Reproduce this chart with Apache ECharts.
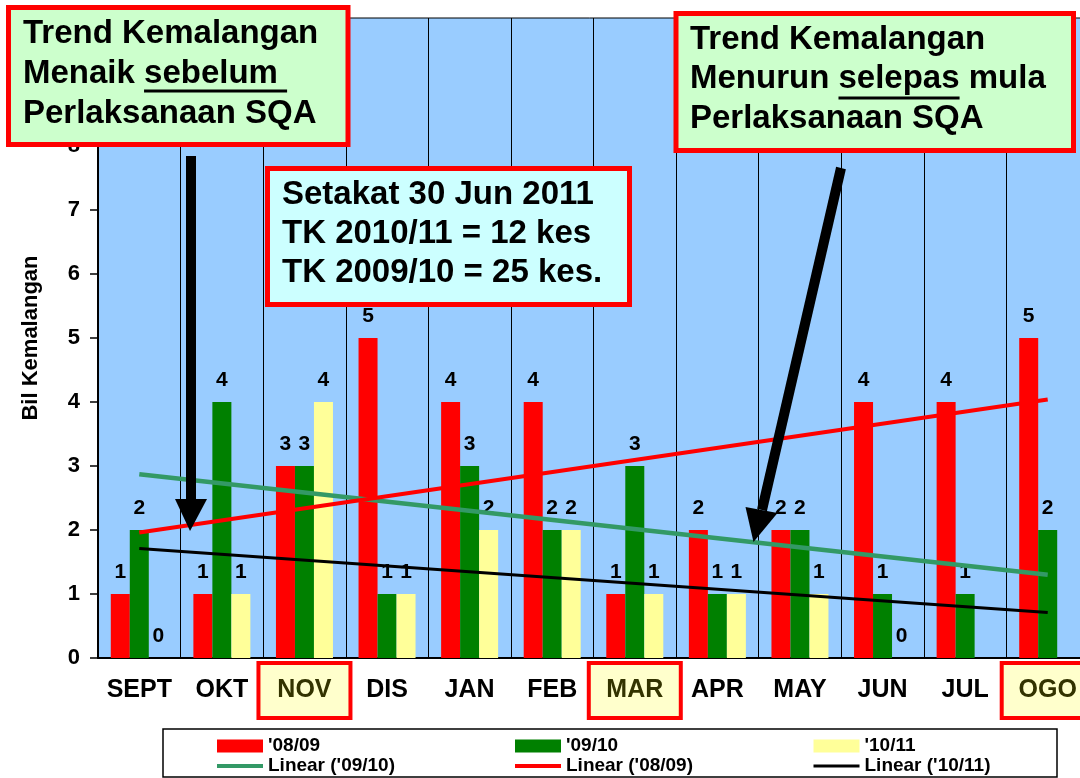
<!DOCTYPE html>
<html>
<head>
<meta charset="utf-8">
<script src="https://cdn.jsdelivr.net/npm/echarts@6/dist/echarts.min.js"></script>
<style>
html, body { margin: 0; padding: 0; background: #fff; }
#chart { width: 1080px; height: 778px; }
</style>
</head>
<body>
<div id="chart"></div>
<script>
// data
var months = ['SEPT', 'OKT', 'NOV', 'DIS', 'JAN', 'FEB', 'MAR', 'APR', 'MAY', 'JUN', 'JUL', 'OGO'];
var highlighted = ['NOV', 'MAR', 'OGO'];
var cases0809 = [1, 1, 3, 5, 4, 4, 1, 2, 2, 4, 4, 5];
var cases0910 = [2, 4, 3, 1, 3, 2, 3, 1, 2, 1, 1, 2];
var cases1011 = [0, 1, 4, 1, 2, 2, 1, 1, 1, 0, null, null];
// trend lines: value at SEPT and at OGO, as drawn
var trend0809 = [1.96, 4.04];
var trend0910 = [2.87, 1.30];
var trend1011 = [1.71, 0.71];
var yTicks = [0, 10, 1]; // min, max, step

var FONT = '"Liberation Sans", Arial, sans-serif';
var red = '#ff0000', green = '#008000', yellow = '#ffff99', trendGreen = '#339966';

var ctx = document.createElement('canvas').getContext('2d');
function textWidth(s, size) {
    ctx.font = 'bold ' + size + 'px ' + FONT;
    return ctx.measureText(s).width;
}

var chart = echarts.init(document.getElementById('chart'), null, { renderer: 'canvas' });

function barSeries(name, data, color) {
    return {
        name: name,
        type: 'bar',
        data: data,
        barWidth: 19,
        barGap: '0%',
        itemStyle: { color: color },
        label: {
            show: true,
            position: 'top',
            distance: 11,
            color: '#000',
            fontSize: 21,
            fontWeight: 'bold'
        },
        z: 2
    };
}

function trendSeries(name, ends, color, width) {
    return {
        name: name,
        type: 'line',
        data: [[0, ends[0]], [months.length - 1, ends[1]]],
        symbol: 'none',
        lineStyle: { color: color, width: width },
        itemStyle: { color: color },
        silent: true,
        z: 3
    };
}

function legendCol(left, names, lineWidth) {
    return {
        orient: 'vertical',
        left: left,
        top: 736.5,
        padding: 0,
        itemGap: 1,
        itemWidth: 46,
        itemHeight: 13,
        selectedMode: false,
        textStyle: { fontSize: 19, fontWeight: 'bold', color: '#000', lineHeight: 18 },
        data: [
            { name: names[0], icon: 'rect' },
            { name: names[1], itemStyle: { opacity: 0 }, lineStyle: { width: lineWidth } }
        ]
    };
}

var FS = 33;
var ulA = 23 + textWidth('Menaik ', FS);
var ulAw = textWidth('sebelum ', FS);
var ulB = 690 + textWidth('Menurun ', FS);
var ulBw = textWidth('selepas', FS);

var option = {
    animation: false,
    textStyle: { fontFamily: FONT },
    grid: {
        left: 98, top: 18, width: 991, height: 640,
        containLabel: false,
        outerBoundsMode: 'none',
        show: true,
        backgroundColor: '#99ccff',
        borderColor: '#000',
        borderWidth: 1
    },
    legend: [
        legendCol(215, ["'08/09", "Linear ('09/10)"], 4),
        legendCol(513, ["'09/10", "Linear ('08/09)"], 4),
        legendCol(812, ["'10/11", "Linear ('10/11)"], 3)
    ],
    xAxis: {
        type: 'category',
        data: months,
        boundaryGap: true,
        axisLine: { lineStyle: { color: '#000', width: 2 } },
        axisTick: { length: 7, lineStyle: { color: '#000', width: 1.5 } },
        splitLine: { show: true, lineStyle: { color: '#000', width: 1 } },
        axisLabel: {
            margin: 7,
            interval: 0,
            formatter: function (v) {
                return highlighted.indexOf(v) >= 0 ? '{hl|' + v + '}' : '{n|' + v + '}';
            },
            rich: {
                n: { fontSize: 25, fontWeight: 'bold', color: '#000', height: 51, lineHeight: 51 },
                hl: {
                    fontSize: 25, fontWeight: 'bold', color: '#333300',
                    width: 88, height: 51, lineHeight: 51, align: 'center',
                    backgroundColor: '#ffffcc', borderColor: red, borderWidth: 4
                }
            }
        }
    },
    yAxis: {
        type: 'value',
        min: yTicks[0],
        max: yTicks[1],
        interval: yTicks[2],
        name: 'Bil Kemalangan',
        nameLocation: 'middle',
        nameGap: 56,
        nameTextStyle: { fontSize: 22, fontWeight: 'bold', color: '#000' },
        axisLine: { show: true, lineStyle: { color: '#000', width: 2 } },
        axisTick: { show: true, length: 8, lineStyle: { color: '#000', width: 1.5 } },
        splitLine: { show: false },
        axisLabel: { margin: 18, fontSize: 22, fontWeight: 'bold', color: '#000' }
    },
    series: [
        barSeries("'08/09", cases0809, red),
        barSeries("'09/10", cases0910, green),
        barSeries("'10/11", cases1011, yellow),
        trendSeries("Linear ('09/10)", trend0910, trendGreen, 4.5),
        trendSeries("Linear ('08/09)", trend0809, red, 4),
        trendSeries("Linear ('10/11)", trend1011, '#000', 3)
    ],
    graphic: [
        // legend frame
        { type: 'rect', z: 0, shape: { x: 163, y: 729, width: 894, height: 48 },
          style: { fill: '#fff', stroke: '#000', lineWidth: 1.5 } },
        // arrow 1 (down to SEPT/OKT)
        { type: 'line', z: 100, shape: { x1: 191, y1: 156, x2: 191, y2: 500 },
          style: { stroke: '#000', lineWidth: 10 } },
        { type: 'polygon', z: 100, shape: { points: [[175, 499], [207, 499], [190, 531]] },
          style: { fill: '#000' } },
        // arrow 2 (down to APR/MAY)
        { type: 'line', z: 100, shape: { x1: 841, y1: 168, x2: 762, y2: 510 },
          style: { stroke: '#000', lineWidth: 10 } },
        { type: 'polygon', z: 100, shape: { points: [[745.5, 507], [777.5, 513], [753.5, 542]] },
          style: { fill: '#000' } },
        // box A
        { type: 'rect', z: 100, shape: { x: 8.5, y: 7.5, width: 339.5, height: 137 },
          style: { fill: '#ccffcc', stroke: red, lineWidth: 5 } },
        { type: 'text', z: 101, x: 23, y: 13.5,
          style: { text: 'Trend Kemalangan\nMenaik sebelum\nPerlaksanaan SQA',
                   font: 'bold ' + FS + 'px ' + FONT, fill: '#000', lineHeight: 40, verticalAlign: 'top' } },
        { type: 'line', z: 101, shape: { x1: ulA, y1: 91, x2: ulA + ulAw, y2: 91 },
          style: { stroke: '#000', lineWidth: 3 } },
        // box B
        { type: 'rect', z: 100, shape: { x: 676, y: 13.5, width: 397.5, height: 137 },
          style: { fill: '#ccffcc', stroke: red, lineWidth: 5 } },
        { type: 'text', z: 101, x: 690, y: 20,
          style: { text: 'Trend Kemalangan\nMenurun selepas mula\nPerlaksanaan SQA',
                   font: 'bold ' + FS + 'px ' + FONT, fill: '#000', lineHeight: 39.5, verticalAlign: 'top' } },
        { type: 'line', z: 101, shape: { x1: ulB, y1: 98, x2: ulB + ulBw, y2: 98 },
          style: { stroke: '#000', lineWidth: 3 } },
        // box C
        { type: 'rect', z: 100, shape: { x: 267.5, y: 168.5, width: 362, height: 136 },
          style: { fill: '#ccffff', stroke: red, lineWidth: 5 } },
        { type: 'text', z: 101, x: 282, y: 175,
          style: { text: 'Setakat 30 Jun 2011\nTK 2010/11 = 12 kes\nTK 2009/10 = 25 kes.',
                   font: 'bold ' + FS + 'px ' + FONT, fill: '#000', lineHeight: 39, verticalAlign: 'top' } }
    ]
};

chart.setOption(option);
window.addEventListener('resize', function () {
    chart.resize();
});
</script>
</body>
</html>
